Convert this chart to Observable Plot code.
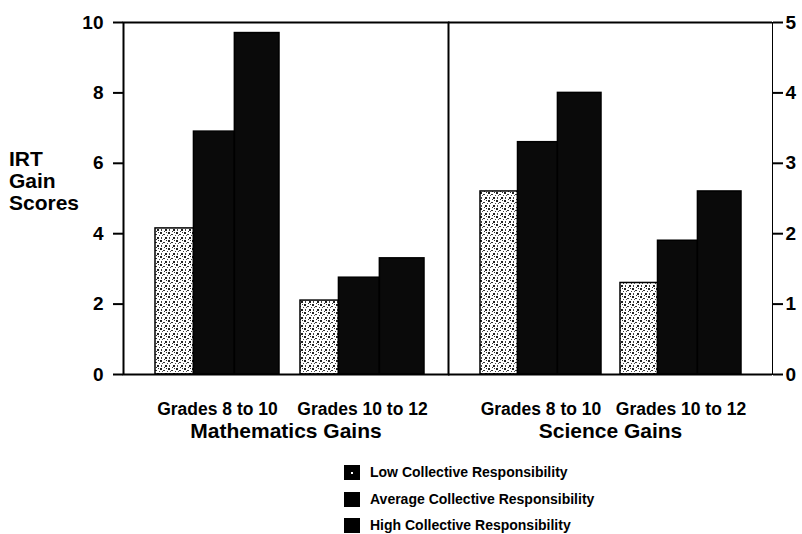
<!DOCTYPE html>
<html><head><meta charset="utf-8">
<script src="https://cdn.jsdelivr.net/npm/d3@7"></script>
<script src="https://cdn.jsdelivr.net/npm/@observablehq/plot@0.6"></script>
<style>
body{margin:0;background:#fff}
#wrap{position:relative;width:802px;height:534px;font-family:'Liberation Sans',Arial,sans-serif;font-weight:bold;color:#000;overflow:hidden;background:#fff}
#wrap svg{position:absolute;top:0;overflow:visible}
#wrap svg [aria-label^="y-axis"] text{font-size:19px;font-weight:bold}
#wrap svg [aria-label^="x-axis"] text{font-size:17.5px;font-weight:bold}
#wrap svg [aria-label^="y-axis"] line,#wrap svg [aria-label^="y-axis"] path{stroke-width:2px;stroke:#000}
#ylabel{position:absolute;left:9px;top:148px;font-size:21px;line-height:22px}
.leg{position:absolute;left:344px;height:16px;display:flex;align-items:center;font-size:14px;white-space:nowrap}
.sw{width:16px;height:15px;background:#000;margin-right:10px;position:relative}
.dot{position:absolute;left:7px;top:7px;width:2px;height:2px;background:#fff}
</style></head>
<body>
<div id="wrap">
  <div id="ylabel">IRT<br>Gain<br>Scores</div>
</div>
<script>
// ---- data ----
const grades = ["Grades 8 to 10", "Grades 10 to 12"];
const levels = ["Low Collective Responsibility", "Average Collective Responsibility", "High Collective Responsibility"];
const subjects = ["Mathematics Gains", "Science Gains"];
const mathLow  = [4.15, 2.1];
const mathAvg  = [6.9, 2.75];
const mathHigh = [9.7, 3.3];
const sciLow   = [2.6, 1.3];
const sciAvg   = [3.3, 1.9];
const sciHigh  = [4.0, 2.6];
const mathTicks = [0, 2, 4, 6, 8, 10];
const sciTicks  = [0, 1, 2, 3, 4, 5];

const wrap = document.getElementById("wrap");
const FONT = "'Liberation Sans', Arial, sans-serif";
const H = 450, MT = 22, MB = 76;
const shares = [0.31, 0.33, 0.36]; // share of each group's width per bar

function patternDefs(svg, id) {
  const defs = document.createElementNS("http://www.w3.org/2000/svg", "defs");
  defs.innerHTML = `<pattern id="${id}" width="8" height="8" patternUnits="userSpaceOnUse">
    <rect width="8" height="8" fill="#fff"/>
    <rect x="0" y="0" width="2" height="2" fill="#222"/>
    <rect x="3" y="2" width="2" height="1" fill="#333"/>
    <rect x="5" y="5" width="2" height="2" fill="#222"/>
    <rect x="1" y="5" width="1" height="2" fill="#444"/>
    <rect x="6" y="0" width="1" height="1" fill="#333"/>
    <rect x="2" y="3" width="1" height="1" fill="#555"/>
    <rect x="4" y="7" width="1" height="1" fill="#333"/>
    <rect x="7" y="3" width="1" height="1" fill="#444"/>
  </pattern>`;
  svg.insertBefore(defs, svg.firstChild);
}

function panel({width, ml, mr, domain, ticks, axis, tickPadding, series, subject, pid, xpad, frame}) {
  const bw = d3.scaleBand().domain(grades).range([ml, width - mr])
    .paddingInner(xpad.inner).paddingOuter(xpad.outer).align(xpad.align).bandwidth();
  const fills = [`url(#${pid})`, "#0a0a0a", "#0a0a0a"];
  const barMarks = series.map((vals, i) => {
    const before = d3.sum(shares.slice(0, i));
    const after = d3.sum(shares.slice(i + 1));
    return Plot.barY(grades.map((g, j) => ({grade: g, level: levels[i], value: vals[j]})), {
      x: "grade", y: "value", fill: fills[i], stroke: "#000", strokeWidth: 1.5,
      insetLeft: before * bw, insetRight: after * bw
    });
  });
  const marks = [
    ...barMarks,
    Plot.text([subject], {text: d => d, frameAnchor: "bottom", dy: 63, fontSize: 21, fontWeight: "bold", fill: "#000"})
  ];
  if (frame) marks.push(Plot.frame({stroke: "#000", strokeWidth: 2}));
  else marks.push(Plot.ruleY(domain, {stroke: "#000", strokeWidth: 2}));
  const svg = Plot.plot({
    width, height: H, marginLeft: ml, marginRight: mr, marginTop: MT, marginBottom: MB,
    style: {fontFamily: FONT, fontWeight: "bold", fontSize: "16px", background: "transparent", color: "#000", overflow: "visible"},
    x: {domain: grades, paddingInner: xpad.inner, paddingOuter: xpad.outer, align: xpad.align, tickSize: 0, tickPadding: 28, label: null},
    y: {domain, ticks, axis, tickSize: 10, tickPadding, label: null, line: true, tickFormat: d => String(d)},
    marks
  });
  patternDefs(svg, pid);
  return svg;
}

const left = panel({
  width: 450, ml: 123, mr: 2, domain: [0, 10], ticks: mathTicks, axis: "left", tickPadding: 10,
  series: [mathLow, mathAvg, mathHigh], subject: subjects[0], pid: "speckM",
  xpad: {inner: 0.145, outer: 0.193, align: 0.57}, frame: true
});
left.style.left = "0px";
wrap.appendChild(left);

const right = panel({
  width: 354, ml: 0, mr: 30, domain: [0, 5], ticks: sciTicks, axis: "right", tickPadding: 3,
  series: [sciLow, sciAvg, sciHigh], subject: subjects[1], pid: "speckS",
  xpad: {inner: 0.136, outer: 0.225, align: 0.5}, frame: false
});
right.style.left = "448px";
wrap.appendChild(right);

// legend
const rowTops = [464, 491, 517];
levels.forEach((lv, i) => {
  const row = document.createElement("div");
  row.className = "leg";
  row.style.top = rowTops[i] + "px";
  const sw = document.createElement("div");
  sw.className = "sw";
  if (i === 0) { const d = document.createElement("div"); d.className = "dot"; sw.appendChild(d); }
  row.appendChild(sw);
  const t = document.createElement("span");
  t.textContent = lv;
  row.appendChild(t);
  wrap.appendChild(row);
});
</script>
</body></html>
